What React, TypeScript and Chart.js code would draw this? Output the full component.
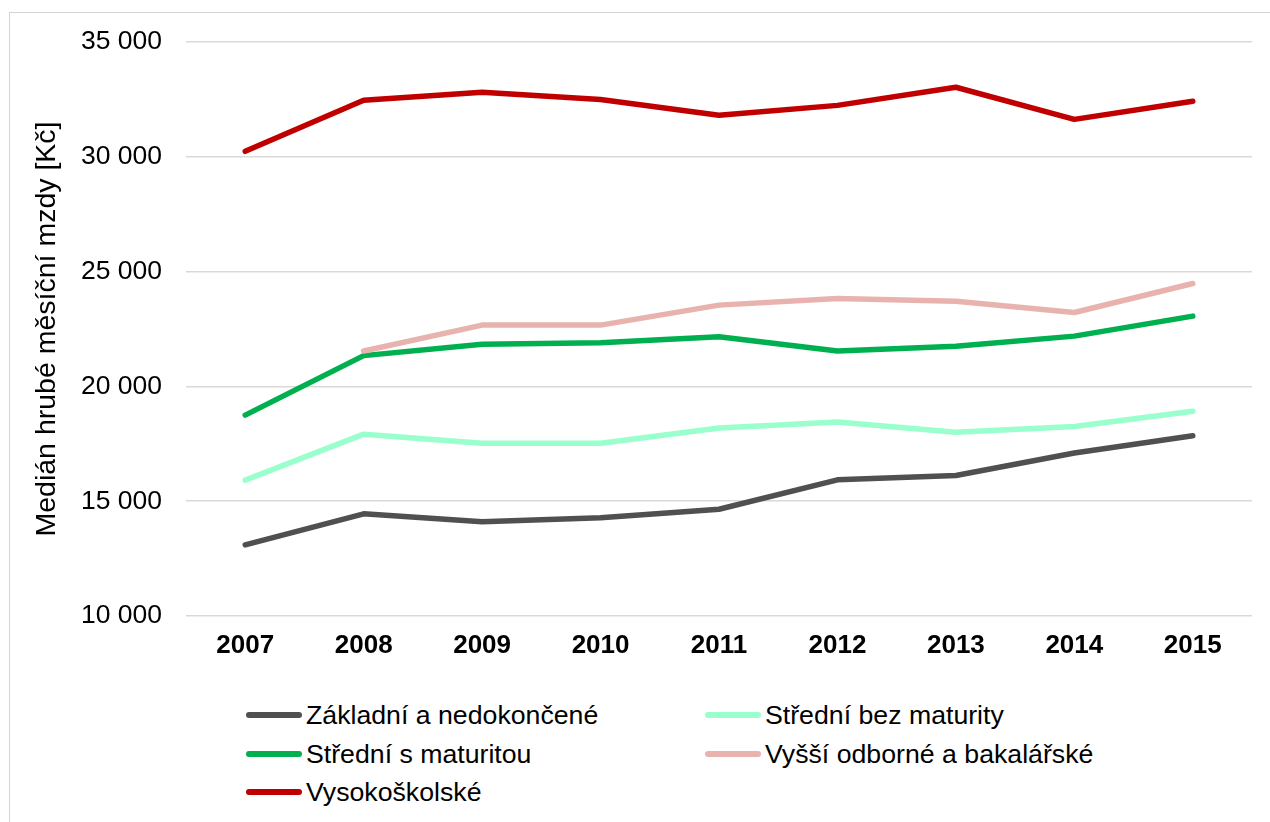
import React, { useEffect, useRef } from "react";
import { Chart, registerables } from "chart.js";

Chart.register(...registerables);

const years = ["2007", "2008", "2009", "2010", "2011", "2012", "2013", "2014", "2015"];

const seriesNames = [
  "Základní a nedokončené",
  "Střední bez maturity",
  "Střední s maturitou",
  "Vyšší odborné a bakalářské",
  "Vysokoškolské",
];

const zakladni = [13100, 14450, 14100, 14280, 14650, 15930, 16120, 17100, 17850];
const stredniBez = [15920, 17920, 17520, 17520, 18190, 18450, 18000, 18250, 18920];
const stredniS = [18750, 21340, 21840, 21900, 22160, 21540, 21750, 22190, 23060];
const vyssi = [null, 21540, 22670, 22670, 23540, 23830, 23710, 23220, 24480];
const vysoko = [30240, 32460, 32810, 32500, 31810, 32240, 33030, 31630, 32420];

const seriesValues = [zakladni, stredniBez, stredniS, vyssi, vysoko];
const seriesColors = ["#505050", "#99FFCC", "#00B050", "#E8B3AE", "#C00000"];

const yMin = 10000;
const yMax = 35000;
const yStep = 5000;
const yTitle = "Medián hrubé měsíční mzdy [Kč]";

const FONT = "'Liberation Sans', Arial, Helvetica, sans-serif";

const legendLayout = [
  { left: 246, top: 715 },
  { left: 705, top: 715 },
  { left: 246, top: 754 },
  { left: 705, top: 754 },
  { left: 246, top: 792 },
];

export default function App() {
  const canvasRef = useRef<HTMLCanvasElement | null>(null);

  useEffect(() => {
    if (!canvasRef.current) return;
    const chart = new Chart(canvasRef.current, {
      type: "line",
      data: {
        labels: years,
        datasets: seriesNames.map((name, i) => ({
          label: name,
          data: seriesValues[i],
          borderColor: seriesColors[i],
          backgroundColor: seriesColors[i],
          borderWidth: 5.5,
          borderCapStyle: "round",
          borderJoinStyle: "round",
          pointRadius: 0,
          pointHoverRadius: 0,
          tension: 0,
          fill: false,
          order: seriesNames.length - i,
        })),
      },
      options: {
        animation: false,
        responsive: false,
        maintainAspectRatio: false,
        layout: { padding: { left: 0, right: 18, top: 42, bottom: 0 } },
        plugins: {
          legend: { display: false },
          tooltip: { enabled: false },
        },
        scales: {
          x: {
            type: "category",
            offset: true,
            grid: { display: false, drawTicks: false },
            border: { display: false },
            ticks: {
              color: "#000",
              padding: 14,
              maxRotation: 0,
              font: { family: FONT, size: 26, weight: "bold" },
            },
            afterFit: (axis: any) => {
              axis.height = 64;
              axis.paddingLeft = 0;
              axis.paddingRight = 0;
            },
          },
          y: {
            min: yMin,
            max: yMax,
            grid: { color: "#D9D9D9", lineWidth: 1.5, drawTicks: false },
            border: { display: false },
            ticks: {
              stepSize: yStep,
              color: "#000",
              padding: 24,
              font: { family: FONT, size: 26.5 },
              callback: (v: any) => {
                const n = Number(v);
                const s = Math.round(n).toString();
                return s.replace(/\B(?=(\d{3})+(?!\d))/g, " ");
              },
            },
            title: {
              display: true,
              text: yTitle,
              color: "#000",
              padding: { top: 30, bottom: 0 },
              font: { family: FONT, size: 28.5 },
            },
            afterFit: (axis: any) => {
              axis.width = 186;
              axis.paddingTop = 0;
              axis.paddingBottom = 0;
            },
          },
        },
      },
    });
    return () => chart.destroy();
  }, []);

  return (
    <div
      style={{
        position: "fixed",
        left: 0,
        top: 0,
        width: 1270,
        height: 822,
        overflow: "hidden",
        background: "#fff",
        fontFamily: FONT,
      }}
    >
      <div
        style={{
          position: "absolute",
          left: 9,
          top: 12,
          width: 1400,
          height: 900,
          borderLeft: "1.5px solid #D4D4D4",
          borderTop: "1.5px solid #D4D4D4",
        }}
      />
      <canvas
        ref={canvasRef}
        width={1270}
        height={680}
        style={{ position: "absolute", left: 0, top: 0, width: 1270, height: 680 }}
      />
      {seriesNames.map((name, i) => (
        <div key={name}>
          <div
            style={{
              position: "absolute",
              left: legendLayout[i].left,
              top: legendLayout[i].top - 3,
              width: 56,
              height: 6,
              borderRadius: 3,
              background: seriesColors[i],
            }}
          />
          <div
            style={{
              position: "absolute",
              left: legendLayout[i].left + 60,
              top: legendLayout[i].top - 15,
              fontSize: 26.7,
              lineHeight: "30px",
              color: "#000",
              whiteSpace: "nowrap",
            }}
          >
            {name}
          </div>
        </div>
      ))}
    </div>
  );
}
